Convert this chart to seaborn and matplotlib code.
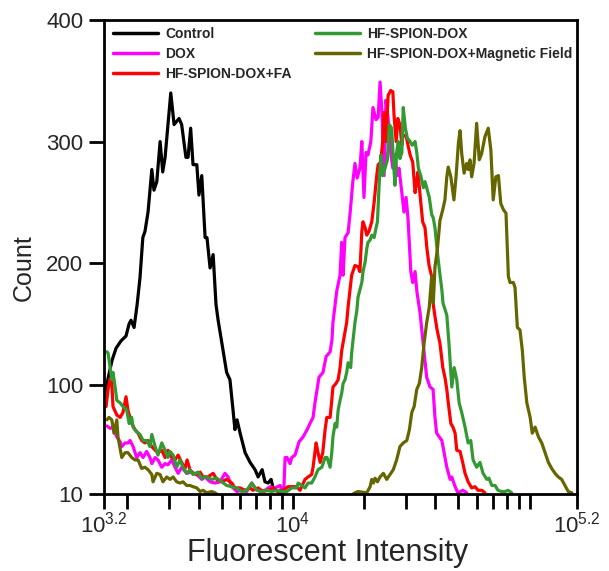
import numpy as np
import pandas as pd
import matplotlib
matplotlib.use("Agg")
import matplotlib.pyplot as plt
import seaborn as sns
from matplotlib.ticker import FixedLocator, NullFormatter, FixedFormatter

# ---------------- data (x stored as log10 of fluorescent intensity) ----------------
samples = ["Control", "DOX", "HF-SPION-DOX+FA", "HF-SPION-DOX",
           "HF-SPION-DOX+Magnetic Field"]
colors = ["#000000", "#ff00ff", "#ff0000", "#339933", "#666600"]

control_logx = [3.206, 3.219, 3.236, 3.253, 3.274, 3.295, 3.308, 3.316, 3.329, 3.342,
                3.354, 3.366, 3.375, 3.388, 3.404, 3.413, 3.425, 3.439, 3.450, 3.460,
                3.484, 3.498, 3.519, 3.530, 3.548, 3.557, 3.568, 3.578, 3.594, 3.603,
                3.615, 3.629, 3.637, 3.650, 3.663, 3.675, 3.684, 3.705, 3.720, 3.734,
                3.747, 3.755, 3.764, 3.777, 3.798, 3.819, 3.840, 3.853, 3.870, 3.882,
                3.895, 3.908, 3.916, 3.937, 3.958]
control_count = [91, 105, 120, 130, 136, 140, 150, 153, 147, 166,
                 188, 221, 226, 242, 277, 260, 267, 300, 275, 287,
                 340, 314, 319, 314, 287, 287, 311, 281, 281, 256,
                 272, 221, 221, 196, 207, 166, 153, 128, 110, 104,
                 79, 63, 71, 60, 44, 36, 30, 24, 30, 20,
                 19, 22, 15, 12, 11]

dox_logx = [3.214, 3.228, 3.240, 3.256, 3.270, 3.277, 3.291, 3.304, 3.312, 3.325,
            3.340, 3.354, 3.367, 3.382, 3.396, 3.404, 3.418, 3.430, 3.446, 3.460,
            3.472, 3.488, 3.502, 3.515, 3.530, 3.551, 3.573, 3.594, 3.615, 3.629,
            3.650, 3.671, 3.692, 3.713, 3.726, 3.742, 3.763, 3.784, 3.805, 3.826,
            3.840, 3.861, 3.882, 3.903, 3.924, 3.946, 3.953, 3.962, 3.967, 3.975,
            3.988, 3.995, 4.009, 4.026, 4.043, 4.060, 4.072, 4.085, 4.093, 4.102,
            4.110, 4.127, 4.140, 4.157, 4.165, 4.169, 4.182, 4.186, 4.199, 4.206,
            4.212, 4.220, 4.233, 4.241, 4.253, 4.262, 4.271, 4.283, 4.291, 4.300,
            4.309, 4.317, 4.329, 4.338, 4.351, 4.360, 4.368, 4.376, 4.385, 4.393,
            4.402, 4.413, 4.422, 4.431, 4.440, 4.448, 4.460, 4.469, 4.478, 4.486,
            4.498, 4.506, 4.516, 4.524, 4.537, 4.550, 4.565, 4.579, 4.592, 4.600,
            4.607, 4.629, 4.650, 4.664, 4.671, 4.685, 4.697, 4.718, 4.734]
dox_count = [66, 64, 65, 57, 53, 49, 52, 52, 54, 49,
             40, 44, 40, 45, 40, 35, 40, 38, 32, 35,
             34, 38, 32, 27, 32, 27, 28, 26, 22, 24,
             20, 19, 20, 27, 24, 16, 12, 13, 12, 19,
             15, 12, 13, 16, 15, 17, 12, 16, 40, 40,
             35, 40, 42, 53, 57, 63, 68, 73, 85, 96,
             106, 110, 123, 127, 137, 151, 172, 178, 190, 217,
             190, 221, 225, 240, 267, 282, 270, 278, 300, 254,
             291, 289, 300, 328, 318, 320, 349, 324, 272, 334,
             319, 291, 278, 289, 272, 278, 258, 242, 254, 237,
             193, 184, 193, 176, 159, 134, 106, 98, 96, 73,
             60, 54, 32, 22, 24, 16, 11, 13, 11]

fa_logx = [3.211, 3.219, 3.228, 3.235, 3.240, 3.256, 3.270, 3.282, 3.295, 3.303,
           3.319, 3.333, 3.346, 3.361, 3.375, 3.388, 3.404, 3.418, 3.430, 3.446,
           3.460, 3.472, 3.488, 3.502, 3.515, 3.530, 3.544, 3.553, 3.565, 3.578,
           3.594, 3.608, 3.620, 3.641, 3.663, 3.678, 3.699, 3.720, 3.742, 3.755,
           3.777, 3.798, 3.819, 3.831, 3.853, 3.874, 3.895, 3.916, 3.937, 3.958,
           3.979, 4.000, 4.016, 4.030, 4.051, 4.064, 4.079, 4.085, 4.098, 4.106,
           4.115, 4.126, 4.136, 4.143, 4.157, 4.164, 4.169, 4.182, 4.191, 4.199,
           4.206, 4.220, 4.227, 4.233, 4.241, 4.248, 4.262, 4.275, 4.283, 4.291,
           4.296, 4.305, 4.312, 4.321, 4.333, 4.343, 4.354, 4.360, 4.371, 4.379,
           4.385, 4.393, 4.402, 4.413, 4.422, 4.427, 4.436, 4.443, 4.452, 4.460,
           4.465, 4.478, 4.486, 4.495, 4.506, 4.516, 4.523, 4.528, 4.537, 4.548,
           4.558, 4.566, 4.575, 4.586, 4.592, 4.600, 4.609, 4.621, 4.633, 4.642,
           4.650, 4.655, 4.667, 4.676, 4.685, 4.692, 4.706, 4.717, 4.727, 4.740,
           4.755, 4.769, 4.782, 4.798, 4.811]
fa_count = [82, 96, 105, 101, 82, 75, 73, 77, 90, 79,
            68, 63, 60, 54, 52, 54, 49, 46, 44, 46,
            40, 46, 40, 38, 42, 36, 31, 38, 30, 27,
            26, 28, 24, 24, 27, 22, 20, 22, 19, 15,
            15, 13, 15, 13, 15, 12, 13, 15, 12, 13,
            16, 16, 16, 13, 22, 24, 26, 32, 52, 44,
            36, 44, 63, 73, 73, 87, 98, 101, 104, 114,
            128, 143, 151, 164, 178, 190, 198, 197, 193, 226,
            234, 229, 223, 226, 234, 250, 272, 281, 283, 300,
            324, 300, 338, 342, 341, 322, 300, 319, 314, 297,
            305, 305, 297, 289, 283, 258, 267, 275, 256, 234,
            229, 212, 198, 189, 167, 156, 145, 134, 114, 106,
            96, 87, 68, 65, 60, 46, 45, 36, 27, 20,
            15, 16, 13, 13, 11]

hf_logx = [3.214, 3.219, 3.228, 3.235, 3.240, 3.249, 3.256, 3.270, 3.282, 3.298,
           3.308, 3.319, 3.325, 3.340, 3.354, 3.367, 3.382, 3.396, 3.404, 3.418,
           3.430, 3.446, 3.460, 3.472, 3.481, 3.494, 3.509, 3.523, 3.536, 3.551,
           3.565, 3.578, 3.599, 3.615, 3.636, 3.657, 3.678, 3.699, 3.720, 3.742,
           3.763, 3.784, 3.805, 3.826, 3.847, 3.868, 3.889, 3.910, 3.932, 3.953,
           3.974, 3.995, 4.016, 4.022, 4.037, 4.051, 4.064, 4.079, 4.093, 4.106,
           4.122, 4.136, 4.144, 4.157, 4.164, 4.169, 4.178, 4.185, 4.191, 4.199,
           4.206, 4.212, 4.220, 4.227, 4.233, 4.244, 4.248, 4.254, 4.262, 4.270,
           4.275, 4.283, 4.291, 4.296, 4.305, 4.312, 4.317, 4.326, 4.333, 4.343,
           4.351, 4.357, 4.364, 4.371, 4.379, 4.389, 4.399, 4.407, 4.417, 4.424,
           4.431, 4.438, 4.445, 4.452, 4.460, 4.466, 4.475, 4.483, 4.495, 4.504,
           4.516, 4.523, 4.530, 4.540, 4.551, 4.558, 4.565, 4.576, 4.586, 4.593,
           4.600, 4.609, 4.617, 4.629, 4.634, 4.650, 4.659, 4.671, 4.681, 4.692,
           4.702, 4.713, 4.727, 4.740, 4.751, 4.761, 4.776, 4.790, 4.803, 4.819,
           4.828, 4.840, 4.854, 4.866, 4.882, 4.896, 4.909, 4.924]
hf_count = [127, 126, 114, 104, 110, 98, 87, 85, 82, 79,
            68, 73, 65, 61, 59, 54, 54, 49, 59, 49,
            42, 52, 46, 40, 45, 42, 32, 38, 32, 27,
            30, 26, 28, 23, 24, 22, 23, 20, 17, 16,
            15, 12, 13, 19, 13, 12, 13, 12, 13, 12,
            12, 15, 15, 19, 17, 15, 19, 19, 24, 30,
            32, 40, 40, 32, 44, 57, 68, 65, 79, 87,
            93, 101, 104, 110, 118, 114, 126, 137, 151, 161,
            172, 178, 184, 193, 201, 212, 217, 219, 223, 221,
            229, 234, 264, 289, 272, 278, 285, 314, 311, 286,
            264, 291, 300, 286, 291, 328, 311, 303, 300, 297,
            300, 291, 278, 272, 262, 267, 262, 254, 240, 237,
            229, 211, 197, 178, 167, 157, 134, 98, 114, 104,
            85, 77, 65, 52, 54, 38, 32, 36, 27, 22,
            23, 17, 17, 13, 12, 12, 13, 11]

mf_logx = [3.214, 3.223, 3.235, 3.244, 3.256, 3.261, 3.277, 3.291, 3.303, 3.319,
           3.333, 3.346, 3.361, 3.375, 3.388, 3.404, 3.409, 3.425, 3.439, 3.451,
           3.467, 3.481, 3.494, 3.509, 3.523, 3.536, 3.551, 3.565, 3.578, 3.594,
           3.608, 3.620, 3.636, 3.657, 3.671, 3.690, 4.240,
           4.262, 4.275, 4.312, 4.326, 4.333, 4.340, 4.347, 4.357, 4.368, 4.382,
           4.396, 4.410, 4.424, 4.438, 4.452, 4.466, 4.481, 4.492, 4.502, 4.512,
           4.523, 4.534, 4.544, 4.554, 4.565, 4.576, 4.586, 4.593, 4.600, 4.610,
           4.621, 4.633, 4.642, 4.650, 4.656, 4.667, 4.680, 4.689, 4.699, 4.706,
           4.713, 4.723, 4.734, 4.741, 4.748, 4.755, 4.765, 4.776, 4.787, 4.797,
           4.811, 4.825, 4.836, 4.846, 4.857, 4.868, 4.878, 4.889, 4.900, 4.910,
           4.917, 4.931, 4.938, 4.948, 4.959, 4.969, 4.977, 4.988, 5.002, 5.011,
           5.023, 5.037, 5.051, 5.065, 5.079, 5.093, 5.107, 5.121, 5.135, 5.149,
           5.163, 5.178]
mf_count = [71, 73, 71, 60, 71, 57, 40, 44, 44, 40,
            38, 38, 31, 32, 30, 26, 20, 27, 26, 20,
            24, 22, 24, 20, 19, 20, 17, 17, 16, 15,
            12, 13, 11, 12, 11, 8, 8,
            11, 12, 11, 16, 22, 19, 23, 20, 24, 27,
            22, 26, 30, 38, 49, 52, 54, 63, 77, 82,
            96, 101, 114, 134, 151, 164, 189, 167, 197, 211,
            235, 244, 252, 271, 279, 271, 252, 271, 299, 309,
            290, 274, 282, 277, 285, 271, 282, 315, 285, 290,
            304, 311, 293, 252, 271, 272, 249, 244, 241, 189,
            184, 184, 180, 147, 145, 128, 106, 85, 73, 60,
            65, 57, 52, 44, 36, 31, 27, 24, 22, 17,
            12, 11]

x_major = [10 ** 3.2, 1e4, 10 ** 5.2]
x_major_labels = [r"$\mathregular{10^{3.2}}$", r"$\mathregular{10^{4}}$",
                  r"$\mathregular{10^{5.2}}$"]
x_minor = [2e3, 3e3, 4e3, 5e3, 6e3, 7e3, 8e3, 9e3,
           2e4, 3e4, 4e4, 5e4, 6e4, 7e4, 8e4, 9e4, 1e5]
y_ticks = [10, 100, 200, 300, 400]

# ---------------- build table ----------------
series = [control_logx, dox_logx, fa_logx, hf_logx, mf_logx]
counts = [control_count, dox_count, fa_count, hf_count, mf_count]
frames = []
for name, lx, c in zip(samples, series, counts):
    frames.append(pd.DataFrame({"Intensity": 10 ** np.asarray(lx, dtype=float),
                                "Count": c, "Sample": name}))
df = pd.concat(frames, ignore_index=True)

# ---------------- style ----------------
sns.set_style("ticks")
plt.rcParams["font.family"] = ["Liberation Sans", "DejaVu Sans"]
plt.rcParams["mathtext.fontset"] = "custom"
plt.rcParams["mathtext.rm"] = "Liberation Sans"
plt.rcParams["mathtext.it"] = "Liberation Sans:italic"
plt.rcParams["mathtext.bf"] = "Liberation Sans:bold"

fig = plt.figure(figsize=(6.09, 5.71), dpi=100)
ax = fig.add_axes([0.170, 0.1349, 0.7775, 0.830])
ax.set_xscale("log")

sns.lineplot(data=df, x="Intensity", y="Count", hue="Sample", hue_order=samples,
             palette=colors, estimator=None, sort=False, linewidth=2.3, ax=ax)

ax.set_xlim(10 ** 3.2, 10 ** 5.2)
ax.set_ylim(10, 400)
ax.xaxis.set_major_locator(FixedLocator(x_major))
ax.xaxis.set_major_formatter(FixedFormatter(x_major_labels))
ax.xaxis.set_minor_locator(FixedLocator(x_minor))
ax.xaxis.set_minor_formatter(NullFormatter())
ax.set_yticks(y_ticks)
ax.set_yticklabels([str(v) for v in y_ticks])

for s in ax.spines.values():
    s.set_linewidth(2.0)
    s.set_color("black")
    s.set_visible(True)
ax.tick_params(axis="both", which="both", direction="out", length=10.5, width=2.0,
               color="black", top=False, right=False)
ax.tick_params(axis="y", which="major", labelsize=16, pad=4)
ax.tick_params(axis="x", which="major", labelsize=16, pad=2)

ax.set_xlabel("Fluorescent Intensity", fontsize=22)
ax.set_ylabel("Count", fontsize=18)
ax.xaxis.set_label_coords(0.474, -0.093)
ax.yaxis.set_label_coords(-0.143, 0.477)

handles, labels = ax.get_legend_handles_labels()
for h in handles:
    h.set_linewidth(2.5)
leg = ax.legend(handles, labels, ncol=2, loc="upper left",
                bbox_to_anchor=(0.020, 0.986), frameon=False, borderaxespad=0,
                borderpad=0, handlelength=3.25, handletextpad=0.5,
                columnspacing=1.7, labelspacing=0.45,
                prop={"family": "Liberation Sans", "weight": "bold", "size": 10})

fig.savefig("out.png", dpi=100)
